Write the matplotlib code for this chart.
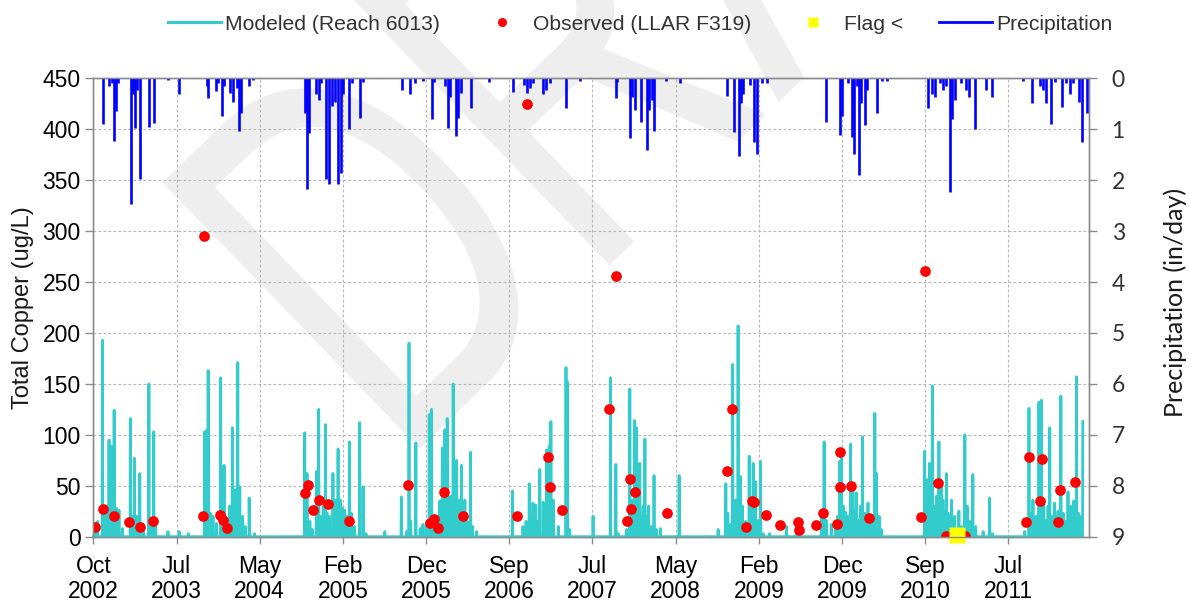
import numpy as np
import pandas as pd
import matplotlib
matplotlib.use("Agg")
import matplotlib.pyplot as plt
import matplotlib.dates as mdates
from matplotlib.lines import Line2D
from matplotlib.textpath import TextPath
from matplotlib.patches import PathPatch
from matplotlib.font_manager import FontProperties
from matplotlib.transforms import Affine2D

plt.rcParams['font.family'] = ['Liberation Sans', 'DejaVu Sans']

# Modeled total copper, Reach 6013 (decimal year, ug/L); days not listed are 0
model_yr = [2002.764, 2002.790, 2002.838, 2002.860, 2002.880, 2002.900, 2002.924, 2002.949, 2002.972, 2002.997,
            2003.030, 2003.107, 2003.120, 2003.145, 2003.168, 2003.197, 2003.230, 2003.283, 2003.300, 2003.331,
            2003.350, 2003.468, 2003.574, 2003.661,
            2003.821, 2003.837, 2003.853, 2003.876, 2003.900, 2003.933, 2003.975, 2003.988, 2004.007, 2004.030,
            2004.060, 2004.087, 2004.110, 2004.139, 2004.158, 2004.184, 2004.210, 2004.247, 2004.300,
            2004.782, 2004.804, 2004.830, 2004.856, 2004.894, 2004.916, 2004.942, 2004.960, 2004.981, 2004.996,
            2005.020, 2005.054, 2005.077, 2005.102, 2005.125, 2005.145, 2005.166, 2005.190, 2005.212, 2005.231,
            2005.260, 2005.311, 2005.343, 2005.369, 2005.551,
            2005.711, 2005.760, 2005.784, 2005.800, 2005.849, 2005.890, 2005.919, 2005.950, 2005.977, 2006.000,
            2006.020, 2006.048, 2006.080, 2006.105, 2006.130, 2006.150, 2006.176, 2006.190, 2006.207, 2006.225,
            2006.240, 2006.265, 2006.288, 2006.305, 2006.320, 2006.345, 2006.374, 2006.395, 2006.432,
            2006.778, 2006.880, 2006.910, 2006.938, 2006.961, 2006.976, 2007.002, 2007.020, 2007.041, 2007.073,
            2007.090, 2007.105, 2007.130, 2007.147, 2007.169, 2007.217, 2007.291, 2007.307, 2007.329,
            2007.553, 2007.720, 2007.771, 2007.793, 2007.874, 2007.905, 2007.931, 2007.953, 2007.970, 2008.001,
            2008.017, 2008.035, 2008.052, 2008.071, 2008.087, 2008.110, 2008.138, 2008.161, 2008.199, 2008.378,
            2008.754, 2008.828, 2008.847, 2008.870, 2008.895, 2008.921, 2008.946, 2008.969, 2008.988, 2009.020,
            2009.052, 2009.068, 2009.090, 2009.113, 2009.138, 2009.161, 2009.186, 2009.250, 2009.411, 2009.507,
            2009.747, 2009.772, 2009.795, 2009.840, 2009.884, 2009.905, 2009.923, 2009.939, 2009.960, 2009.980,
            2010.002, 2010.028, 2010.050, 2010.070, 2010.083, 2010.098, 2010.120, 2010.141, 2010.163, 2010.195,
            2010.225, 2010.259, 2010.276, 2010.300, 2010.323,
            2010.739, 2010.761, 2010.787, 2010.813, 2010.835, 2010.855, 2010.877, 2010.900, 2010.915, 2010.930,
            2010.948, 2010.963, 2010.996, 2011.010, 2011.027, 2011.069, 2011.095, 2011.124, 2011.146, 2011.175,
            2011.203, 2011.229, 2011.300, 2011.364, 2011.390,
            2011.700, 2011.742, 2011.765, 2011.780, 2011.810, 2011.838, 2011.861, 2011.883, 2011.909, 2011.925,
            2011.941, 2011.960, 2011.989, 2012.020, 2012.047, 2012.069, 2012.095, 2012.117, 2012.140, 2012.170,
            2012.198, 2012.217, 2012.240, 2012.268, 2012.294, 2012.309, 2012.320]
model_cu = [7, 15, 193, 25, 28, 95, 89, 124, 28, 26,
            8, 116, 20, 77, 20, 62, 10, 150, 15, 103,
            10, 5, 5, 3,
            103, 104, 163, 23, 20, 13, 156, 69, 70, 15,
            30, 107, 46, 171, 49, 20, 10, 38, 3,
            102, 62, 15, 7, 64, 125, 20, 30, 110, 23,
            20, 62, 36, 86, 36, 28, 26, 20, 93, 23,
            10, 112, 49, 3, 5,
            39, 5, 190, 15, 92, 8, 12, 14, 120, 125,
            15, 10, 35, 87, 105, 116, 39, 40, 150, 30,
            75, 36, 70, 25, 36, 15, 83, 10, 5,
            45, 10, 15, 52, 20, 33, 31, 15, 66, 34,
            30, 85, 89, 113, 36, 10, 166, 152, 7,
            20, 156, 71, 3, 7, 145, 36, 114, 107, 72,
            20, 30, 96, 20, 30, 10, 60, 7, 8, 60,
            7, 52, 23, 12, 169, 36, 207, 59, 30, 15,
            79, 30, 72, 54, 16, 74, 3, 3, 10, 15,
            20, 93, 16, 12, 10, 20, 74, 85, 30, 24,
            20, 91, 52, 25, 43, 16, 30, 98, 23, 33,
            20, 121, 62, 20, 7,
            84, 56, 72, 148, 30, 40, 93, 52, 36, 25,
            62, 23, 36, 15, 20, 25, 10, 100, 30, 15,
            61, 10, 5, 38, 3,
            5, 126, 23, 36, 20, 132, 134, 36, 16, 30,
            107, 20, 33, 25, 138, 23, 15, 44, 30, 35,
            157, 23, 20, 113, 20, 57, 10]

# Observed total copper at LLAR F319 (decimal year, ug/L)
obs_yr = [2002.764, 2002.838, 2002.947, 2003.094, 2003.197, 2003.319, 2003.805, 2003.811, 2003.965, 2003.991,
          2004.029, 2004.782, 2004.808, 2004.856, 2004.920, 2005.003, 2005.202, 2005.775, 2005.983, 2006.022,
          2006.057, 2006.118, 2006.303, 2006.816, 2006.920, 2007.120, 2007.133, 2007.251, 2007.706, 2007.771,
          2007.879, 2007.905, 2007.915, 2007.953, 2008.258, 2008.835, 2008.883, 2009.017, 2009.075, 2009.100,
          2009.212, 2009.347, 2009.517, 2009.530, 2009.690, 2009.763, 2009.898, 2009.923, 2009.925, 2010.032,
          2010.205, 2010.702, 2010.740, 2010.862, 2010.942, 2011.125, 2011.707, 2011.742, 2011.842, 2011.867,
          2012.015, 2012.037, 2012.184]
obs_cu = [10, 27, 20, 14, 10, 15, 20, 295, 21, 16,
          9, 43, 51, 26, 36, 32, 15, 51, 13, 17,
          9, 44, 20, 20, 425, 78, 49, 26, 125, 256,
          15, 57, 27, 44, 23, 64, 125, 10, 35, 34,
          21, 11, 14, 7, 11, 23, 12, 83, 49, 50,
          18, 19, 261, 53, 1, 1, 14, 78, 35, 76,
          14, 46, 54]

# Samples flagged below detection
flag_yr = [2011.047]
flag_cu = [2]

# Daily precipitation (decimal year, in/day)
precip_yr = [2002.844, 2002.899, 2002.924, 2002.949, 2002.966, 2002.988, 2003.107, 2003.132, 2003.148, 2003.170,
             2003.196, 2003.283, 2003.331, 2003.468, 2003.571,
             2003.837, 2003.853, 2003.927, 2003.949, 2003.982, 2004.004, 2004.061, 2004.093, 2004.126, 2004.151,
             2004.164, 2004.247, 2004.285,
             2004.782, 2004.798, 2004.823, 2004.885, 2004.919, 2004.933, 2004.984, 2005.016, 2005.039, 2005.070,
             2005.102, 2005.125, 2005.150, 2005.208, 2005.231, 2005.311, 2005.337,
             2005.711, 2005.791, 2005.839, 2005.919, 2006.000, 2006.022, 2006.128, 2006.153, 2006.176, 2006.233,
             2006.255, 2006.278, 2006.374, 2006.553,
             2006.784, 2006.891, 2006.920, 2006.949, 2006.974, 2007.070, 2007.099, 2007.134, 2007.295, 2007.430,
             2007.770, 2007.784, 2007.909, 2007.930, 2007.955, 2008.009, 2008.070, 2008.091, 2008.120, 2008.141,
             2008.252, 2008.384,
             2008.837, 2008.902, 2008.954, 2008.977, 2008.991, 2009.062, 2009.098, 2009.123, 2009.177, 2009.223,
             2009.787, 2009.926, 2009.947, 2009.997, 2010.037, 2010.062, 2010.083, 2010.105, 2010.126, 2010.162,
             2010.187, 2010.276, 2010.329, 2010.376,
             2010.768, 2010.811, 2010.840, 2010.882, 2010.911, 2010.946, 2010.979, 2011.000, 2011.025, 2011.089,
             2011.132, 2011.160, 2011.221, 2011.329, 2011.382,
             2011.685, 2011.768, 2011.847, 2011.874, 2011.899, 2011.953, 2011.989, 2012.060, 2012.096, 2012.132,
             2012.167, 2012.221, 2012.246, 2012.293, 2012.329]
precip_in = [0.90, 0.16, 0.10, 1.23, 0.65, 0.10, 2.47, 0.30, 0.98, 0.23,
             1.97, 0.95, 0.87, 0.03, 0.31,
             0.16, 0.38, 0.25, 0.10, 0.75, 0.16, 0.29, 0.46, 0.20, 1.03,
             0.69, 0.15, 0.03,
             0.69, 2.17, 1.08, 0.31, 0.42, 0.10, 1.97, 2.07, 0.55, 0.46,
             2.07, 1.86, 0.30, 1.00, 0.10, 0.77, 0.07,
             0.23, 0.31, 0.10, 0.05, 0.80, 0.07, 0.16, 0.98, 0.36, 1.14,
             0.78, 0.29, 0.58, 0.07,
             0.26, 0.13, 0.28, 0.20, 0.10, 0.30, 0.23, 0.10, 0.58, 0.05,
             0.38, 0.07, 1.18, 0.36, 0.62, 0.85, 1.41, 0.62, 0.43, 1.03,
             0.05, 0.10,
             0.35, 1.05, 1.53, 0.49, 0.30, 0.13, 1.25, 1.48, 0.10, 0.10,
             0.85, 1.11, 0.75, 0.10, 1.15, 1.48, 0.16, 1.90, 0.49, 0.92,
             0.23, 0.69, 0.05, 0.05,
             0.58, 0.30, 0.36, 0.10, 0.23, 0.16, 2.24, 0.79, 0.43, 0.10,
             0.23, 0.36, 1.00, 0.23, 0.37,
             0.05, 0.49, 0.16, 0.23, 0.49, 0.90, 0.07, 0.56, 0.10, 0.30,
             0.10, 0.46, 1.25, 0.68, 0.23]


def to_date(yr):
    yr = np.asarray(yr, dtype=float)
    return pd.Timestamp('2000-01-01') + pd.to_timedelta((yr - 2000) * 365.25, unit='D')


# daily modeled series
days = pd.date_range('2002-10-01', '2012-04-04', freq='D')
model = np.zeros(len(days))
for i, v in zip(days.get_indexer(to_date(model_yr).normalize()), model_cu):
    model[i] = max(model[i], v)

fig = plt.figure(figsize=(11.89, 6.05), dpi=100)
ax = fig.add_axes([0.0785, 0.1129, 0.8377, 0.7577])
ax.set_facecolor('none')
ax2 = ax.twinx()

# DRAFT stamp behind the chart
stamp = TextPath((0, 0), 'DRAFT', size=538, prop=FontProperties(family='Liberation Sans'))
fig.add_artist(PathPatch(stamp, facecolor='#eeeeee', edgecolor='none', zorder=-5,
                         transform=Affine2D().scale(0.68, 1).rotate_deg(44).translate(398, 135.5)))

cyan = '#33CCCC'
ax.plot(days, model, color=cyan, lw=2.0, zorder=3, clip_on=False)
ax.plot(to_date(obs_yr), obs_cu, 'o', color='#FF0000', ms=7.7, mec='none', zorder=4)
ax.plot(to_date(flag_yr), flag_cu, 's', color='#FFFF00', ms=11, mec='none', zorder=5, clip_on=False)

ax2.vlines(to_date(precip_yr), 0, precip_in, colors='#0000FF', lw=1.9)

start = pd.Timestamp('2002-10-01')
ax.set_xlim(start, start + pd.Timedelta(days=3496))
ax.set_ylim(0, 450)
ax2.set_ylim(9, 0)

ticks = [start + pd.Timedelta(days=292 * k) for k in range(12)]
ax.set_xticks(ticks)
ax.xaxis.set_major_formatter(mdates.DateFormatter('%b\n%Y'))
ax.set_yticks(range(0, 451, 50))
ax2.set_yticks(range(10))
ax2.set_yticklabels([str(i) for i in range(10)], fontfamily='Lato', fontsize=16.5, color='#333333')

ax.set_axisbelow(True)
ax.grid(True, color='#b5b5b5', linestyle=(0, (2.5, 2)), lw=0.8)

for a in (ax, ax2):
    for s in a.spines.values():
        s.set_color('#8c8c8c')
        s.set_linewidth(1.0)
ax.tick_params(axis='y', direction='out', length=6, width=1, color='#8c8c8c', labelsize=16.5, pad=3)
ax.tick_params(axis='x', direction='out', length=5, width=1, color='#8c8c8c', labelsize=16.5, pad=8)
ax2.tick_params(axis='y', direction='out', length=6, width=1, color='#8c8c8c', pad=10)
for lbl in ax.get_xticklabels():
    lbl.set_linespacing(1.1)

fig.text(23 / 1189, 1 - 308 / 605, 'Total Copper (ug/L)', rotation=90, ha='center', va='center',
         fontsize=17, color='#1a1a1a')
fig.text(1175 / 1189, 1 - 302 / 605, 'Precipitation (in/day)', rotation=90, ha='center', va='center',
         fontsize=18, fontfamily='Lato', color='#1a1a1a')

handles = [Line2D([], [], color=cyan, lw=2.2),
           Line2D([], [], ls='none', marker='o', color='#FF0000', ms=6.5, mec='none'),
           Line2D([], [], ls='none', marker='s', color='#FFFF00', ms=7, mec='none'),
           Line2D([], [], color='#0000FF', lw=2.0)]
labels = ['Modeled (Reach 6013)', 'Observed (LLAR F319)', 'Flag <', 'Precipitation']
fig.legend(handles, labels, loc='center', bbox_to_anchor=(640 / 1189, 1 - 24 / 605), ncol=4,
           frameon=False, fontsize=15.2, handlelength=2.5, handletextpad=0.2, columnspacing=1.7,
           borderaxespad=0, labelcolor='#333333')

fig.savefig('out.png', dpi=100)
